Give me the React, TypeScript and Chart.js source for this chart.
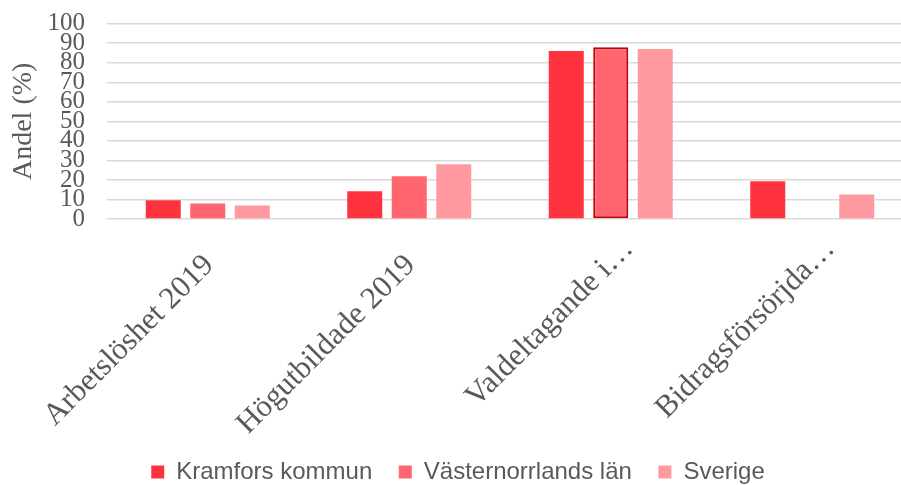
import React, { useEffect, useRef } from "react";
import { Chart, registerables } from "chart.js";

Chart.register(...registerables);

// Trailing spaces keep the full-length labels aligned like the original (truncated labels sit further right).
const categories = ["Arbetslöshet 2019   ", "Högutbildade 2019   ", "Valdeltagande i…", "Bidragsförsörjda…"];
const seriesNames = ["Kramfors kommun", "Västernorrlands län", "Sverige"];
const kramfors = [9.6, 14.2, 86.0, 19.3];
const vasternorrland: (number | null)[] = [8.0, 21.9, 87.9, null];
const sverige = [6.9, 28.0, 87.0, 12.5];
const yMin = 0;
const yMax = 100;
const yStep = 10;
const yTitle = "Andel (%)";

const colors = ["#ff3340", "#ff6670", "#ff99a0"];
const textColor = "#595959";

export default function App() {
  const ref = useRef<HTMLCanvasElement | null>(null);

  useEffect(() => {
    if (!ref.current) return;
    const highlightBorder = vasternorrland.map((_, i) => (i === 2 ? "#c00000" : "rgba(0,0,0,0)"));
    const highlightWidth = vasternorrland.map((_, i) => (i === 2 ? 2 : 0));
    const chart = new Chart(ref.current, {
      type: "bar",
      data: {
        labels: categories,
        datasets: [
          { label: seriesNames[0], data: kramfors, backgroundColor: colors[0], borderWidth: 0 },
          {
            label: seriesNames[1],
            data: vasternorrland,
            backgroundColor: colors[1],
            borderColor: highlightBorder,
            borderWidth: highlightWidth,
            borderSkipped: false,
          },
          { label: seriesNames[2], data: sverige, backgroundColor: colors[2], borderWidth: 0 },
        ],
      },
      options: {
        responsive: false,
        animation: false,
        devicePixelRatio: 1,
        categoryPercentage: 0.6625,
        barPercentage: 0.787,
        layout: { padding: { left: 3, right: 11, top: 23.7, bottom: 0 } },
        plugins: {
          legend: {
            position: "bottom",
            labels: {
              boxWidth: 13,
              boxHeight: 13,
              padding: 26.5,
              color: textColor,
              font: { family: "'Liberation Sans', Arial, sans-serif", size: 24 },
              generateLabels: (c) =>
                c.data.datasets.map((ds, i) => ({
                  text: ds.label as string,
                  fillStyle: colors[i],
                  strokeStyle: colors[i],
                  lineWidth: 0,
                  hidden: false,
                  datasetIndex: i,
                  fontColor: textColor,
                })),
            },
          },
          tooltip: { enabled: false },
        },
        scales: {
          x: {
            grid: { display: false, drawTicks: false },
            border: { display: false },
            afterFit: (scale) => {
              scale.height = 214.5;
              scale.paddingLeft = 0;
              scale.paddingRight = 0;
            },
            ticks: {
              autoSkip: false,
              maxRotation: 45,
              minRotation: 45,
              padding: 12,
              labelOffset: 18,
              color: textColor,
              font: { family: "'Liberation Serif', serif", size: 31 },
            },
          },
          y: {
            min: yMin,
            max: yMax,
            border: { display: false },
            grid: { color: "#d9d9d9", lineWidth: 1.5, drawTicks: false },
            afterFit: (scale) => {
              scale.width = 104;
              scale.paddingTop = 0;
              scale.paddingBottom = 0;
            },
            ticks: {
              stepSize: yStep,
              autoSkip: false,
              padding: 22,
              color: textColor,
              font: { family: "'Liberation Serif', serif", size: 25 },
            },
            title: {
              display: true,
              text: yTitle,
              color: textColor,
              font: { family: "'Liberation Serif', serif", size: 28 },
              padding: { top: 4, bottom: 4 },
            },
          },
        },
      },
    });
    return () => chart.destroy();
  }, []);

  return (
    <div style={{ position: "fixed", left: 0, top: 0, width: 901, height: 485, overflow: "hidden", background: "#fff" }}>
      <canvas ref={ref} width={924} height={494} style={{ display: "block", width: 924, height: 494 }} />
    </div>
  );
}
